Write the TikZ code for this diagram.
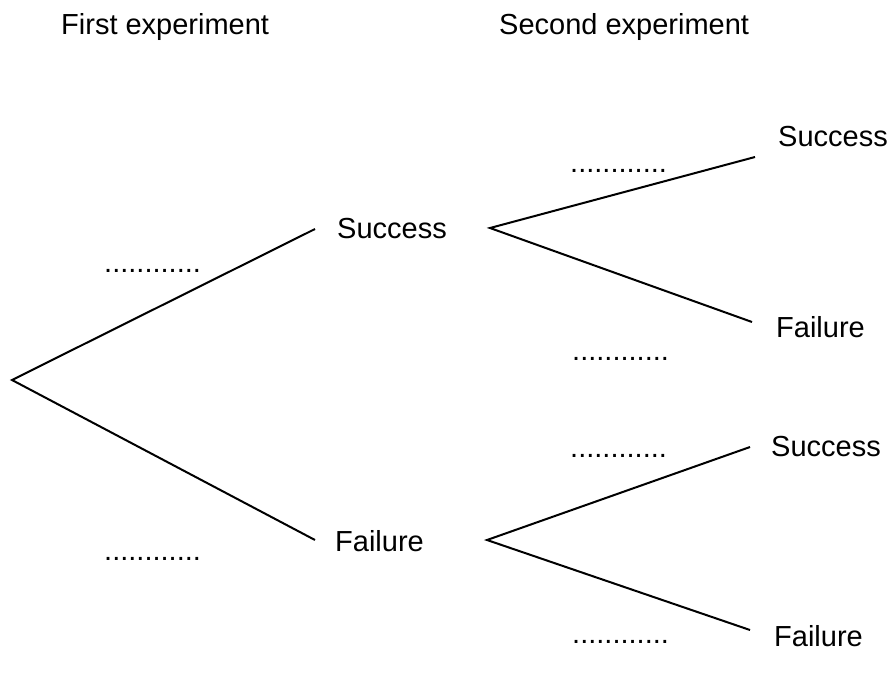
\documentclass[tikz,border=0pt]{standalone}
\usepackage{fontspec}
\setmainfont{Liberation Sans}
\begin{document}
\begin{tikzpicture}[x=1pt,y=-1pt,
  lbl/.style={anchor=base west,inner sep=0pt,font=\fontsize{29}{34}\selectfont},
  hdr/.style={lbl},
  branch/.style={line width=2pt,line cap=butt}]
\useasboundingbox (0,0) rectangle (890,675);
% headers
\node[hdr] (h1) at (61,34) {First experiment};
\node[hdr] (h2) at (499,34) {Second experiment};
% labels
\node[lbl] (s1) at (337,238) {Success};
\node[lbl] (f1) at (335,551) {Failure};
\node[lbl] (s2) at (778,146) {Success};
\node[lbl] (f2) at (776,337) {Failure};
\node[lbl] (s3) at (771,456) {Success};
\node[lbl] (f3) at (774,646) {Failure};
% dots
\node[lbl] (d1) at (104,272) {............};
\node[lbl] (d2) at (104,560) {............};
\node[lbl] (d3) at (570,172) {............};
\node[lbl] (d4) at (572,360) {............};
\node[lbl] (d5) at (570,457) {............};
\node[lbl] (d6) at (572,643) {............};
% branch points
\coordinate (root) at (12,380);
\coordinate (s1in) at (315,229);
\coordinate (f1in) at (315,540);
\coordinate (s1out) at (490,228);
\coordinate (f1out) at (487,540);
\coordinate (s2in) at (755,157);
\coordinate (f2in) at (752,322);
\coordinate (s3in) at (750,447);
\coordinate (f3in) at (750,630);
\draw[branch] (s1in) -- (root) -- (f1in);
\draw[branch] (s2in) -- (s1out) -- (f2in);
\draw[branch] (s3in) -- (f1out) -- (f3in);
\end{tikzpicture}
\end{document}
